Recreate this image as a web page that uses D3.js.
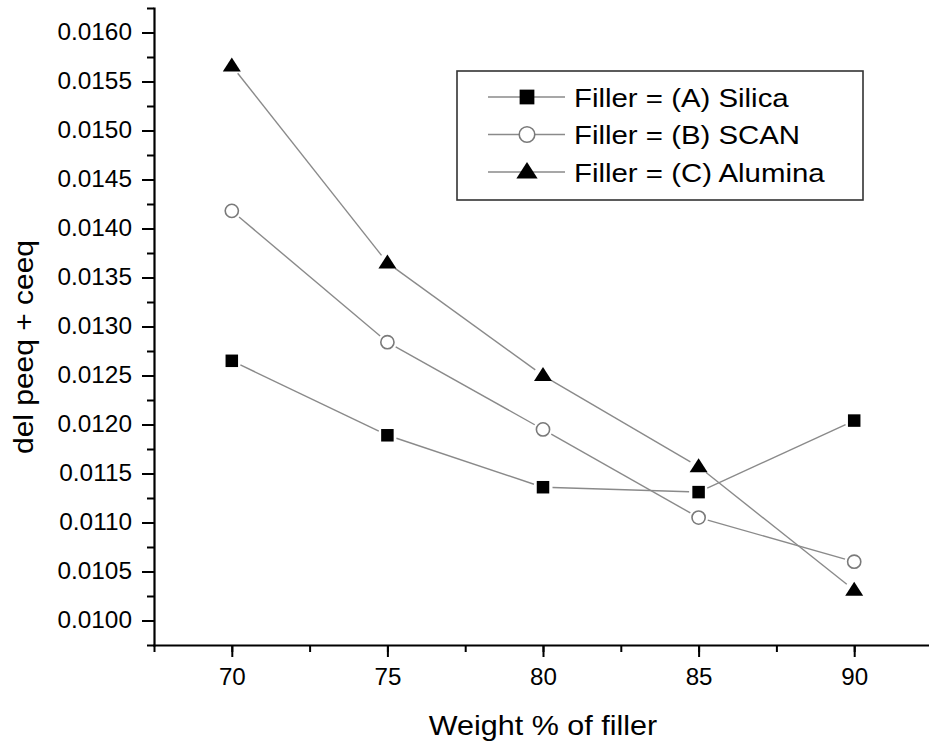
<!DOCTYPE html>
<html>
<head>
<meta charset="utf-8">
<script src="https://cdn.jsdelivr.net/npm/d3@7"></script>
<style>
  html, body { margin: 0; padding: 0; background: #fff; }
  svg { display: block; }
  text { font-family: "Liberation Sans", Arial, Helvetica, sans-serif; fill: #000; }
</style>
</head>
<body>
<svg id="chart" width="929" height="746"></svg>
<script>
// Weight percentage of filler on the x axis
const weights = [70, 75, 80, 85, 90];

// del peeq + ceeq for each filler type
const silica  = [0.01265, 0.01189, 0.01136, 0.01131, 0.01204];
const scan    = [0.01418, 0.01284, 0.01195, 0.01105, 0.01060];
const alumina = [0.01566, 0.01365, 0.01250, 0.01157, 0.01031];

const seriesNames = ["Filler = (A) Silica", "Filler = (B) SCAN", "Filler = (C) Alumina"];
const seriesSymbols = ["square", "circle", "triangle"];

const xTicks = [70, 75, 80, 85, 90];
const yTicks = [0.0100, 0.0105, 0.0110, 0.0115, 0.0120, 0.0125, 0.0130,
                0.0135, 0.0140, 0.0145, 0.0150, 0.0155, 0.0160];

const xLabel = "Weight % of filler";
const yLabel = "del peeq + ceeq";

const svg = d3.select("#chart");

const plotLeft = 154, plotTop = 8, plotBottom = 645;
const x = d3.scaleLinear().domain([67.5, 92.5]).range([plotLeft, 932]);
const y = d3.scaleLinear().domain([0.00975, 0.01625]).range([plotBottom, plotTop]);

const lineColor = "#8a8a8a";

// stretch a text element horizontally to a wider width
function widen(sel, factor) {
  sel.each(function () {
    const w = this.getComputedTextLength();
    d3.select(this).attr("textLength", w * factor).attr("lengthAdjust", "spacingAndGlyphs");
  });
}

// ---- axes ----
const yMinor = d3.range(0.00975, 0.016251, 0.00025);
const xMinor = d3.range(67.5, 92.51, 2.5);

const yAxisMinor = svg.append("g").attr("transform", `translate(${plotLeft},0)`)
  .call(d3.axisLeft(y).tickValues(yMinor).tickSize(7).tickSizeOuter(0).tickFormat(""));
const yAxis = svg.append("g").attr("transform", `translate(${plotLeft},0)`)
  .call(d3.axisLeft(y).tickValues(yTicks).tickSize(12).tickSizeOuter(0).tickPadding(10)
    .tickFormat(d3.format(".4f")));

const xAxisMinor = svg.append("g").attr("transform", `translate(0,${plotBottom})`)
  .call(d3.axisBottom(x).tickValues(xMinor).tickSize(7).tickSizeOuter(0).tickFormat(""));
const xAxis = svg.append("g").attr("transform", `translate(0,${plotBottom})`)
  .call(d3.axisBottom(x).tickValues(xTicks).tickSize(12).tickSizeOuter(0).tickPadding(12)
    .tickFormat(d3.format("d")));

[yAxisMinor, yAxis, xAxisMinor, xAxis].forEach(g => {
  g.selectAll("path.domain").attr("stroke", "#000").attr("stroke-width", 2.2)
    .attr("stroke-linecap", "square");
  g.selectAll(".tick line").attr("stroke", "#000").attr("stroke-width", 2);
});
yAxisMinor.select("path.domain").remove();
xAxisMinor.select("path.domain").remove();

yAxis.selectAll(".tick text").attr("font-size", 23).attr("fill", "#000")
  .attr("font-family", "Liberation Sans, Arial, sans-serif");
widen(yAxis.selectAll(".tick text"), 1.06);
xAxis.selectAll(".tick text").attr("font-size", 23).attr("fill", "#000")
  .attr("font-family", "Liberation Sans, Arial, sans-serif");
widen(xAxis.selectAll(".tick text"), 1.05);

// axis titles
const xt = svg.append("text").attr("x", 543).attr("y", 735).attr("text-anchor", "middle")
  .attr("font-size", 28).text(xLabel);
widen(xt, 1.09);

const yt = svg.append("text").attr("transform", "translate(33,347) rotate(-90)")
  .attr("text-anchor", "middle").attr("font-size", 28).text(yLabel);
widen(yt, 1.07);

// ---- series ----
const seriesValues = [silica, scan, alumina];

function drawSymbol(g, type, cx, cy, scale) {
  if (type === "square") {
    const s = 12.5 * scale;
    g.append("rect").attr("x", cx - s / 2).attr("y", cy - s / 2).attr("width", s).attr("height", s)
      .attr("fill", "#000");
  } else if (type === "circle") {
    g.append("circle").attr("cx", cx).attr("cy", cy).attr("r", 6.6 * scale)
      .attr("fill", "#fff").attr("stroke", "#7a7a7a").attr("stroke-width", 1.6);
  } else {
    const w = 18 * scale, h = 14 * scale;
    g.append("path")
      .attr("d", `M${cx},${cy - h * 0.6}L${cx + w / 2},${cy + h * 0.4}L${cx - w / 2},${cy + h * 0.4}Z`)
      .attr("fill", "#000");
  }
}

const plot = svg.append("g");
seriesValues.forEach((vals, i) => {
  const pts = vals.map((v, j) => [x(weights[j]), y(v)]);
  const gap = 9.5;
  // connecting segments stop short of each marker
  for (let j = 0; j < pts.length - 1; j++) {
    const [x0, y0] = pts[j], [x1, y1] = pts[j + 1];
    const len = Math.hypot(x1 - x0, y1 - y0);
    const ux = (x1 - x0) / len, uy = (y1 - y0) / len;
    plot.append("line")
      .attr("x1", x0 + ux * gap).attr("y1", y0 + uy * gap)
      .attr("x2", x1 - ux * gap).attr("y2", y1 - uy * gap)
      .attr("stroke", lineColor).attr("stroke-width", 1.4);
  }
  pts.forEach(p => drawSymbol(plot, seriesSymbols[i], p[0], p[1], 1));
});

// ---- legend ----
const legend = svg.append("g");
legend.append("rect").attr("x", 457).attr("y", 71).attr("width", 406).attr("height", 129)
  .attr("fill", "#fff").attr("stroke", "#333").attr("stroke-width", 1.6);

seriesNames.forEach((name, i) => {
  const cy = 97 + i * 37.5;
  legend.append("line").attr("x1", 488).attr("x2", 565).attr("y1", cy).attr("y2", cy)
    .attr("stroke", lineColor).attr("stroke-width", 1.4);
  drawSymbol(legend, seriesSymbols[i], 527, cy, 1.18);
  const t = legend.append("text").attr("x", 574).attr("y", cy + 9.5)
    .attr("font-size", 26).text(name);
  widen(t, 1.13);
});
</script>
</body>
</html>
